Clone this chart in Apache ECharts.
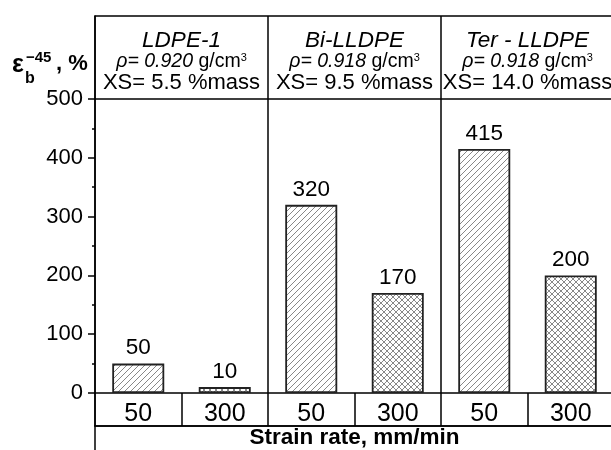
<!DOCTYPE html>
<html>
<head>
<meta charset="utf-8">
<script src="https://cdn.jsdelivr.net/npm/echarts@6/dist/echarts.min.js"></script>
<style>html,body{margin:0;padding:0;background:#fff;}#c{width:611px;height:450px;}</style>
</head>
<body>
<div id="c"></div>
<script>
// ---- data ----
const groups = ['LDPE-1', 'Bi-LLDPE', 'Ter - LLDPE'];
const densities = ['0.920', '0.918', '0.918'];
const xsValues = ['5.5', '9.5', '14.0'];
const strainRates = ['50', '300', '50', '300', '50', '300'];
const elongation = [50, 10, 320, 170, 415, 200];
const yTicks = [0, 100, 200, 300, 400, 500];

// ---- patterns ----
function makePattern(cross) {
  const s = 6;
  const c = document.createElement('canvas');
  c.width = s; c.height = s;
  const g = c.getContext('2d');
  g.fillStyle = '#fff'; g.fillRect(0, 0, s, s);
  g.strokeStyle = '#6a6a6a'; g.lineWidth = 0.8;
  g.beginPath();
  g.moveTo(-1, s + 1); g.lineTo(s + 1, -1);
  g.moveTo(-1, 1); g.lineTo(1, -1);
  g.moveTo(s - 1, s + 1); g.lineTo(s + 1, s - 1);
  if (cross) {
    g.moveTo(-1, -1); g.lineTo(s + 1, s + 1);
    g.moveTo(s - 1, -1); g.lineTo(s + 1, 1);
    g.moveTo(-1, s - 1); g.lineTo(1, s + 1);
  }
  g.stroke();
  return { image: c, repeat: 'repeat' };
}
const hatch = makePattern(false);
const crossHatch = makePattern(true);

const chart = echarts.init(document.getElementById('c'));
const black = '#000';
const font = 'Liberation Sans, Arial, sans-serif';
const W = 519;
const line = { show: true, onZero: false, lineStyle: { color: black, width: 1.5 } };
const off = { show: false };

function gridAt(top, height) {
  return { left: 95, width: W, top: top, height: height, show: false,
    containLabel: false, outerBoundsMode: 'none' };
}
// plain frame axes for the band grids
function frameX(gi, pos) {
  return { gridIndex: gi, type: 'category', data: strainRates, position: pos,
    axisLine: line, axisTick: off, axisLabel: off, splitLine: off };
}
function frameY(gi) {
  return { gridIndex: gi, type: 'value', min: 0, max: 1,
    axisLine: line, axisTick: off, axisLabel: off, splitLine: off };
}

const option = {
  backgroundColor: '#fff',
  animation: false,
  textStyle: { fontFamily: font, color: black },
  grid: [gridAt(16, 83), gridAt(99, 294), gridAt(393, 33), gridAt(426, 60)],
  xAxis: [
    {
      gridIndex: 0, type: 'category', data: groups, position: 'top',
      axisLine: line,
      axisTick: off,
      splitLine: { show: true, lineStyle: { color: black, width: 1.5 } },
      axisLabel: {
        inside: true, margin: 13, verticalAlign: 'top', align: 'center', color: black,
        interval: 0, hideOverlap: false,
        formatter: function (v, i) {
          return '{t|' + groups[i] + '}\n{ri|\u03C1= ' + densities[i] + '}{r| g/cm}{sup|3}\n{x|XS= ' + xsValues[i] + ' %mass}';
        },
        rich: {
          t: { fontSize: 22.5, fontStyle: 'italic', lineHeight: 23, fontFamily: font, color: black },
          ri: { fontSize: 19.5, fontStyle: 'italic', lineHeight: 20, fontFamily: font, color: black },
          r: { fontSize: 19.5, lineHeight: 20, fontFamily: font, color: black },
          sup: { fontSize: 11, lineHeight: 20, verticalAlign: 'top', padding: [0, 0, 6, 0], fontFamily: font, color: black },
          x: { fontSize: 22, lineHeight: 21, fontFamily: font, color: black }
        }
      }
    },
    {
      gridIndex: 1, type: 'category', data: strainRates, position: 'bottom',
      axisLine: line,
      axisTick: { show: true, length: 33, lineStyle: { color: black, width: 1.5 } },
      splitLine: { show: true, interval: function (i) { return i % 2 === 0; }, lineStyle: { color: black, width: 1.5 } },
      axisLabel: { fontSize: 25, margin: 9, color: black, interval: 0 },
      name: 'Strain rate, mm/min', nameLocation: 'middle', nameGap: 33, nameMoveOverlap: false,
      nameTextStyle: { fontSize: 22.5, fontWeight: 'bold', color: black, fontFamily: font }
    },
    frameX(1, 'top'),
    frameX(2, 'bottom'),
    frameX(3, 'top')
  ],
  yAxis: [
    frameY(0),
    {
      gridIndex: 1, type: 'value', min: 0, max: 500, interval: 100,
      axisLine: line,
      axisTick: { show: true, length: 7, lineStyle: { color: black, width: 1.5 } },
      minorTick: { show: true, splitNumber: 2, length: 3, lineStyle: { color: black, width: 1.5 } },
      splitLine: off,
      axisLabel: { fontSize: 22, margin: 12, color: black,
        formatter: function (v) { return yTicks.indexOf(v) >= 0 ? String(v) : ''; } }
    },
    frameY(2),
    frameY(3)
  ],
  graphic: [
    { type: 'text', left: 12, top: 53, style: { text: '\u03B5', font: 'bold 25px ' + font, fill: black } },
    { type: 'text', left: 25, top: 71, style: { text: 'b', font: 'bold 16px ' + font, fill: black } },
    { type: 'text', left: 26, top: 50, style: { text: '\u221245', font: 'bold 15px ' + font, fill: black } },
    { type: 'text', left: 56, top: 53, style: { text: ', %', font: 'bold 22px ' + font, fill: black } }
  ],
  series: [
    {
      type: 'bar', xAxisIndex: 1, yAxisIndex: 1, barWidth: 52,
      data: elongation.map(function (v, i) {
        return { value: v, itemStyle: { color: i % 2 === 0 ? hatch : crossHatch } };
      }),
      itemStyle: { borderColor: '#222', borderWidth: 1.8 },
      label: { show: true, position: 'top', distance: 4, fontSize: 22.5, color: black, fontFamily: font }
    }
  ]
};
chart.setOption(option);
</script>
</body>
</html>
